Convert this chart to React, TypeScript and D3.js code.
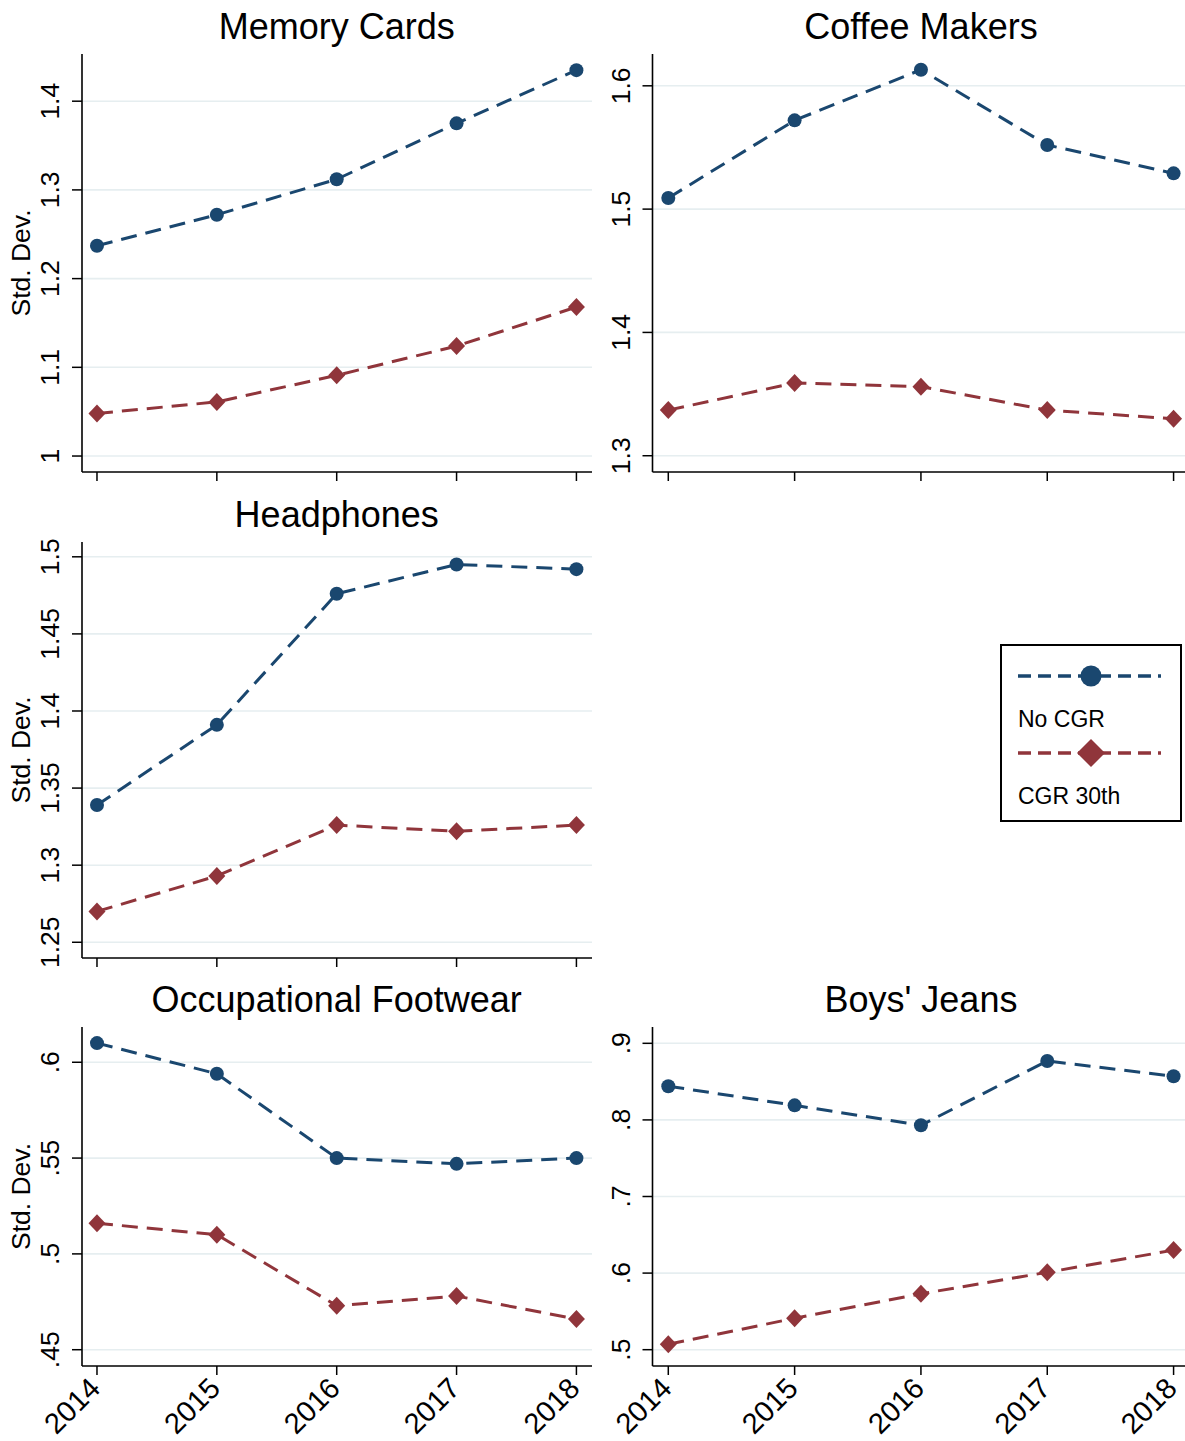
import React from "react";
import * as d3 from "d3";

// ---------- data ----------
const years = [2014, 2015, 2016, 2017, 2018];

const memoryNoCGR = [1.237, 1.272, 1.312, 1.375, 1.435];
const memoryCGR30 = [1.048, 1.061, 1.091, 1.124, 1.168];
const memoryTicks = [1, 1.1, 1.2, 1.3, 1.4];

const coffeeNoCGR = [1.509, 1.572, 1.613, 1.552, 1.529];
const coffeeCGR30 = [1.337, 1.359, 1.356, 1.337, 1.33];
const coffeeTicks = [1.3, 1.4, 1.5, 1.6];

const headNoCGR = [1.339, 1.391, 1.476, 1.495, 1.492];
const headCGR30 = [1.27, 1.293, 1.326, 1.322, 1.326];
const headTicks = [1.25, 1.3, 1.35, 1.4, 1.45, 1.5];

const footNoCGR = [0.61, 0.594, 0.55, 0.547, 0.55];
const footCGR30 = [0.516, 0.51, 0.473, 0.478, 0.466];
const footTicks = [0.45, 0.5, 0.55, 0.6];

const jeansNoCGR = [0.844, 0.819, 0.793, 0.877, 0.857];
const jeansCGR30 = [0.507, 0.541, 0.573, 0.601, 0.63];
const jeansTicks = [0.5, 0.6, 0.7, 0.8, 0.9];

const seriesNames = ["No CGR", "CGR 30th"];

// ---------- style ----------
const BLUE = "#1a476f";
const RED = "#90353b";
const GRID = "#e6eef0";
const FONT = "'Liberation Sans', Arial, Helvetica, sans-serif";
const DASH = "16 9";

const fmt = (v: number) => {
  const s = d3.format("~g")(v);
  return s.startsWith("0.") ? s.slice(1) : s;
};

type Panel = {
  title: string;
  a: number[];
  b: number[];
  ticks: number[];
  yDomain: [number, number];
  left: number;
  right: number;
  top: number;
  bottom: number;
  yLabel: boolean;
  xLabels: boolean;
};

const X_DOMAIN: [number, number] = [2013.875, 2018.13];

const panels: Panel[] = [
  { title: "Memory Cards", a: memoryNoCGR, b: memoryCGR30, ticks: memoryTicks, yDomain: [0.982, 1.4532], left: 82, right: 592, top: 54, bottom: 472, yLabel: true, xLabels: false },
  { title: "Coffee Makers", a: coffeeNoCGR, b: coffeeCGR30, ticks: coffeeTicks, yDomain: [1.2868, 1.6258], left: 652.5, right: 1190, top: 54, bottom: 472, yLabel: false, xLabels: false },
  { title: "Headphones", a: headNoCGR, b: headCGR30, ticks: headTicks, yDomain: [1.2398, 1.5096], left: 82, right: 592, top: 542, bottom: 958, yLabel: true, xLabels: false },
  { title: "Occupational Footwear", a: footNoCGR, b: footCGR30, ticks: footTicks, yDomain: [0.4415, 0.6184], left: 82, right: 592, top: 1027, bottom: 1366, yLabel: true, xLabels: true },
  { title: "Boys' Jeans", a: jeansNoCGR, b: jeansCGR30, ticks: jeansTicks, yDomain: [0.4787, 0.9213], left: 652.5, right: 1190, top: 1027, bottom: 1366, yLabel: false, xLabels: true },
];

const diamond = (x: number, y: number, w: number, h: number) =>
  `M${x},${y - h}L${x + w},${y}L${x},${y + h}L${x - w},${y}Z`;

function PanelView({ p }: { p: Panel }) {
  const x = d3.scaleLinear().domain(X_DOMAIN).range([p.left, p.right]);
  const y = d3.scaleLinear().domain(p.yDomain).range([p.bottom, p.top]);
  const line = d3
    .line<number>()
    .x((_, i) => x(years[i]))
    .y((d) => y(d));
  const cx = x(2016);
  return (
    <g>
      {/* title */}
      <text x={cx} y={p.top - 15} textAnchor="middle" fontSize={36} fontFamily={FONT} fill="#000">
        {p.title}
      </text>
      {/* grid */}
      {p.ticks.map((t) => (
        <line key={"g" + t} x1={p.left} x2={p.right} y1={y(t)} y2={y(t)} stroke={GRID} strokeWidth={1.6} />
      ))}
      {/* y ticks */}
      {p.ticks.map((t) => (
        <g key={"t" + t}>
          <line x1={p.left - 10} x2={p.left} y1={y(t)} y2={y(t)} stroke="#000" strokeWidth={1.5} />
          <text
            transform={`translate(${p.left - 23},${y(t)}) rotate(-90)`}
            textAnchor="middle"
            fontSize={26.5}
            fontFamily={FONT}
            fill="#000"
          >
            {fmt(t)}
          </text>
        </g>
      ))}
      {/* x ticks */}
      {years.map((yr) => (
        <g key={"x" + yr}>
          <line x1={x(yr)} x2={x(yr)} y1={p.bottom} y2={p.bottom + 9} stroke="#000" strokeWidth={1.5} />
          {p.xLabels && (
            <text
              transform={`translate(${x(yr) + 5},${p.bottom + 24}) rotate(-45)`}
              textAnchor="end"
              fontSize={29}
              fontFamily={FONT}
              fill="#000"
            >
              {yr}
            </text>
          )}
        </g>
      ))}
      {/* axes */}
      <line x1={p.left} x2={p.left} y1={p.top} y2={p.bottom} stroke="#000" strokeWidth={1.6} />
      <line x1={p.left} x2={p.right} y1={p.bottom} y2={p.bottom} stroke="#000" strokeWidth={1.6} />
      {p.yLabel && (
        <text
          transform={`translate(30,${(p.top + p.bottom) / 2}) rotate(-90)`}
          textAnchor="middle"
          fontSize={26.5}
          fontFamily={FONT}
          fill="#000"
        >
          Std. Dev.
        </text>
      )}
      {/* series */}
      <path d={line(p.a) || ""} fill="none" stroke={BLUE} strokeWidth={3} strokeDasharray={DASH} />
      {p.a.map((v, i) => (
        <circle key={"a" + i} cx={x(years[i])} cy={y(v)} r={7} fill={BLUE} />
      ))}
      <path d={line(p.b) || ""} fill="none" stroke={RED} strokeWidth={3} strokeDasharray={DASH} />
      {p.b.map((v, i) => (
        <path key={"b" + i} d={diamond(x(years[i]), y(v), 8.5, 9)} fill={RED} />
      ))}
    </g>
  );
}

function Legend() {
  const bx = 1001, by = 645, bw = 180, bh = 176;
  const x1 = 1018, x2 = 1161, mx = 1091;
  const rows = [
    { name: seriesNames[0], color: BLUE, ly: 676, ty: 727, marker: "circle" },
    { name: seriesNames[1], color: RED, ly: 753, ty: 804, marker: "diamond" },
  ];
  return (
    <g>
      <rect x={bx} y={by} width={bw} height={bh} fill="#fff" stroke="#000" strokeWidth={2} />
      {rows.map((r) => (
        <g key={r.name}>
          <line x1={x1} x2={x2} y1={r.ly} y2={r.ly} stroke={r.color} strokeWidth={3.5} strokeDasharray="13 7" />
          {r.marker === "circle" ? (
            <circle cx={mx} cy={r.ly} r={10.5} fill={r.color} />
          ) : (
            <path d={diamond(mx, r.ly, 14, 14)} fill={r.color} />
          )}
          <text x={x1} y={r.ty} fontSize={23} fontFamily={FONT} fill="#000">
            {r.name}
          </text>
        </g>
      ))}
    </g>
  );
}

export default function App() {
  return (
    <svg
      width={1185}
      height={1441}
      style={{ position: "absolute", left: 0, top: 0, background: "#fff" }}
    >
      <rect x={0} y={0} width={1185} height={1441} fill="#fff" />
      {panels.map((p) => (
        <PanelView key={p.title} p={p} />
      ))}
      <Legend />
    </svg>
  );
}
